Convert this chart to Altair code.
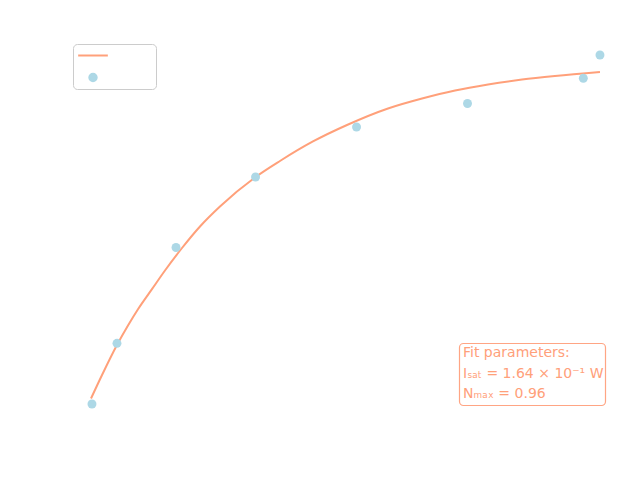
import altair as alt
import pandas as pd

# Measured data (power in W, normalised count)
data_I = [0.0336, 0.0599, 0.1220, 0.2056, 0.3118, 0.4285, 0.5503, 0.5678]
data_N = [0.1637, 0.3037, 0.5246, 0.6871, 0.8024, 0.8566, 0.9147, 0.9684]

# Fit curve
fit_I = [0.0326, 0.0442, 0.0599, 0.0715, 0.0820, 0.0967, 0.1104, 0.1283, 0.1472,
         0.1682, 0.2050, 0.2313, 0.2660, 0.3018, 0.3449, 0.3807, 0.4154, 0.4501,
         0.4858, 0.5205, 0.5678]
fit_N = [0.1764, 0.2306, 0.2997, 0.3447, 0.3822, 0.4285, 0.4715, 0.5234, 0.5730,
         0.6191, 0.6860, 0.7240, 0.7690, 0.8070, 0.8451, 0.8681, 0.8866, 0.9004,
         0.9117, 0.9200, 0.9292]

series_names = ["fit", "data"]
series_colors = ["#FFA07A", "#ADD8E6"]
series_shapes = ["M-4,0H4", "circle"]

annot_lines = ["Fit parameters:", "Iₛₐₜ = 1.64 × 10⁻¹ W", "Nₘₐₓ = 0.96"]

df_pts = pd.DataFrame({"I": data_I, "N": data_N, "series": ["data"] * len(data_I)})
df_fit = pd.DataFrame({"I": fit_I, "N": fit_N})
df_one = pd.DataFrame({"k": [0]})

xs = alt.Scale(domain=[-0.0631, 0.6099], nice=False, zero=False)
ys = alt.Scale(domain=[-0.0115, 1.0952], nice=False, zero=False)

leg = alt.Legend(
    orient="none", legendX=73, legendY=44, title=None,
    labelExpr="''", labelFontSize=11,
    padding=6, rowPadding=8, symbolSize=55, symbolStrokeWidth=2,
    symbolOffset=8.5,
)

legend_box = alt.Chart(df_one).mark_rect(
    cornerRadius=4, fill="white", stroke="#cccccc", strokeWidth=1
).encode(x=alt.value(73.5), x2=alt.value(156.5), y=alt.value(44.5), y2=alt.value(89.5))

line = alt.Chart(df_fit).mark_line(strokeWidth=2, interpolate="monotone", color="#FFA07A").encode(
    x=alt.X("I:Q", scale=xs, axis=None),
    y=alt.Y("N:Q", scale=ys, axis=None),
)

pts = alt.Chart(df_pts).mark_point(filled=True, size=80, strokeWidth=0, opacity=1).encode(
    x=alt.X("I:Q", scale=xs, axis=None),
    y=alt.Y("N:Q", scale=ys, axis=None),
    fill=alt.Fill("series:N", scale=alt.Scale(domain=series_names, range=series_colors), legend=leg),
    stroke=alt.Stroke("series:N", scale=alt.Scale(domain=series_names, range=series_colors), legend=leg),
    shape=alt.Shape("series:N", scale=alt.Scale(domain=series_names, range=series_shapes), legend=leg),
)

box = alt.Chart(df_one).mark_rect(
    cornerRadius=4, fill="white", strokeWidth=1.2
).encode(x=alt.value(459.5), x2=alt.value(605.5), y=alt.value(343.5), y2=alt.value(405.5),
         stroke=alt.value("#FFA584"))

txt = alt.Chart(df_one).mark_text(
    align="left", baseline="top", font="DejaVu Sans", fontSize=14,
    color="#FFA07A", lineHeight=20.5
).encode(x=alt.value(463), y=alt.value(346), text=alt.value(annot_lines))

chart = alt.layer(legend_box, line, pts, box, txt).properties(
    width=640, height=480, autosize=alt.AutoSizeParams(type="none"), padding=0
).configure(font="DejaVu Sans").configure_view(stroke=None)

chart.save("out.html", embed_options={"renderer": "svg", "actions": False})
